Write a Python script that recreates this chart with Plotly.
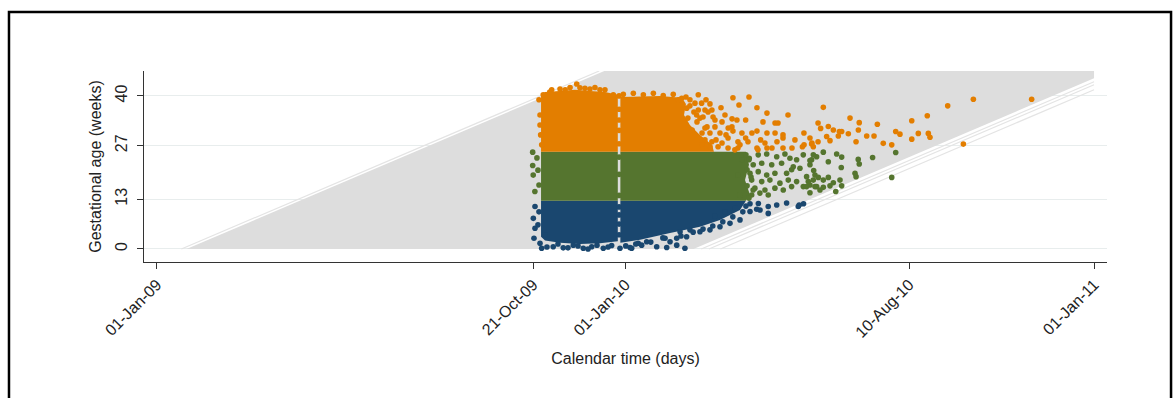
import numpy as np
import pandas as pd
import plotly.graph_objects as go

BASE = pd.Timestamp("2009-01-01")

# ---- x values are days since 01-Jan-09, y values are gestational weeks ----
# grey area covered by the pregnancy follow-up lines
area_day = [23.0, 348.5, 730.0, 730.0, 418.0]
area_wk = [0.0, 46.5, 46.5, 44.6, 0.0]

# a few separate thin follow-up lines at the edges
thin_day0 = [19.0, 424.0, 430.0, 439.0]
thin_wk0 = [0.0, 0.0, 0.0, 0.0]
thin_day1 = [344.5, 730.0, 730.0, 730.0]
thin_wk1 = [46.5, 43.7, 42.9, 41.6]

blue_b1_day = [299.2, 359.0, 359.0, 345.1, 329.5, 314.0, 302.3, 299.2]
blue_b1_wk = [12.6, 12.6, 2.0, 1.5, 1.3, 1.6, 2.2, 3.2]
blue_b2_day = [361.0, 458.8, 454.2, 438.6, 423.0, 399.7, 376.3, 361.0]
blue_b2_wk = [12.6, 12.6, 10.2, 7.6, 5.8, 4.2, 2.4, 1.6]
green_b1_day = [299.2, 359.0, 359.0, 299.2]
green_b1_wk = [25.4, 25.4, 12.6, 12.6]
green_b2_day = [361.0, 458.8, 461.2, 458.1, 462.0, 458.8, 361.0]
green_b2_wk = [25.4, 25.4, 22.0, 18.0, 14.1, 12.6, 12.6]
orange_b1_day = [299.2, 299.2, 302.3, 314.0, 325.6, 337.3, 349.0, 359.0, 359.0]
orange_b1_wk = [25.4, 40.3, 41.0, 41.3, 41.6, 41.3, 41.0, 40.3, 25.4]
orange_b2_day = [361.0, 361.0, 391.9, 409.0, 412.1, 410.6, 415.2, 423.0, 432.4, 433.9]
orange_b2_wk = [25.4, 39.7, 40.0, 39.5, 37.9, 35.0, 32.4, 29.8, 27.2, 25.4]

# individual observations
blue_day = [294.5, 293.2, 294.5, 293.7, 298.4, 299.7, 308.7, 316.5, 324.3, 332.1,
            338.7, 347.7, 354.2, 360.7, 369.8, 303.8, 312.4, 320.2, 328.0, 335.8,
            342.8, 351.4, 302.3, 296.8, 297.6, 360.0, 360.0, 360.0, 360.0,
            374.9, 368.5, 381.5, 377.6, 389.3, 397.1, 395.8, 399.7, 404.9, 404.9,
            411.3, 412.6, 407.5, 415.2, 423.0, 430.8, 438.6, 446.4, 454.2, 462.0,
            467.2, 476.2, 462.0, 468.5, 476.2, 482.8, 490.5, 499.6, 500.3, 503.7,
            469.8, 442.6, 450.4, 434.7,
            458.8, 456.4, 448.6, 440.8, 433.0, 425.4, 417.7, 408.2, 394.1, 384.7,
            373.0, 365.2]
blue_wk = [11.1, 8.0, 5.4, 2.8, 1.5, 0.2, 0.6, 0.3, 1.0, 0.2,
           0.6, 0.2, 0.9, 0.2, 0.2, 0.5, 1.3, 0.3, 0.8, 0.0,
           1.0, 0.5, 3.7, 6.3, 9.7, 11.0, 8.9, 6.5, 3.7,
           1.5, 0.4, 1.9, 1.0, 0.6, 0.4, 2.8, 1.9, 2.8, 1.0,
           0.2, 3.2, 4.5, 5.0, 4.5, 5.0, 5.8, 6.7, 7.6, 9.8,
           10.4, 9.3, 11.8, 11.9, 11.1, 11.5, 12.0, 11.1, 11.5, 11.8,
           10.2, 9.7, 10.7, 8.6,
           11.2, 9.7, 8.4, 7.1, 6.0, 5.2, 4.4, 3.4, 2.9, 1.8,
           1.3, 0.8]

green_day = [292.7, 292.7, 293.1, 294.4, 296.0, 296.8, 297.6, 360.0, 360.0, 360.0,
             461.4, 468.4, 475.0, 482.8, 489.2, 493.1, 498.3, 503.5, 510.0, 513.9,
             464.5, 471.1, 478.9, 486.6, 495.7, 500.9, 508.7,
             462.0, 468.4, 475.0, 481.4, 490.5, 494.4, 506.1, 512.6,
             463.3, 471.1, 477.5, 485.3, 491.8, 498.3, 503.5, 508.7, 513.9,
             465.8, 473.6, 481.4, 487.9, 494.4, 463.3, 469.7, 476.2,
             519.1, 529.5, 533.4, 511.3, 508.7, 523.0, 546.3, 547.1, 557.5, 575.5,
             533.1, 511.6, 543.8, 544.6, 507.4, 511.3, 515.2, 519.1, 523.0, 526.9,
             532.1, 533.4, 506.1, 512.6, 519.1, 524.3, 508.7, 516.5, 528.8, 572.4,
             458.8, 461.2, 459.7, 462.8, 459.7, 464.4, 461.2, 455.7, 452.6, 454.2]
green_wk = [25.3, 21.8, 19.3, 15.0, 23.8, 20.6, 16.7, 24.0, 19.5, 14.0,
            23.7, 24.6, 24.8, 24.1, 24.8, 23.7, 23.3, 24.6, 23.3, 24.1,
            22.0, 22.4, 22.0, 22.4, 21.5, 21.1, 22.0,
            19.8, 20.2, 19.3, 19.8, 19.8, 20.7, 18.9, 19.3,
            18.0, 17.6, 18.0, 17.2, 18.0, 17.6, 16.3, 16.7, 16.3,
            15.9, 15.4, 15.9, 15.4, 16.3, 14.1, 14.6, 14.1,
            25.3, 24.8, 24.0, 24.6, 23.1, 22.8, 23.4, 22.2, 23.9, 25.2,
            21.3, 20.5, 19.8, 18.9, 17.6, 18.0, 18.7, 18.0, 18.7, 17.3,
            18.0, 16.5, 16.3, 16.3, 16.1, 16.5, 14.7, 15.4, 15.0, 18.7,
            24.6, 23.3, 20.7, 18.8, 16.5, 15.4, 13.3, 23.3, 19.3, 14.1]

orange_day = [300.9, 307.5, 314.0, 321.8, 327.0, 333.4, 341.2, 349.0, 355.5, 306.0,
              318.0, 337.3, 345.1, 329.5, 298.4, 298.9, 299.7, 297.6, 298.4,
              360.0, 360.0, 360.0, 360.0, 360.0,
              363.3, 371.1, 378.9, 386.7, 394.4, 402.2, 408.8,
              406.2, 415.2, 419.1, 412.7, 424.3, 421.7, 420.4, 421.7,
              448.7, 461.2, 453.4, 467.4, 475.2, 491.6, 430.8, 426.9, 432.3, 439.4,
              425.4, 433.2, 440.2, 448.0, 451.8, 472.1, 481.5, 483.8, 515.0, 428.5,
              434.7, 447.9, 448.7, 455.7, 463.5, 467.4, 475.2, 481.5, 487.7, 504.0,
              424.6, 430.8, 438.6, 426.9, 432.3, 444.9, 452.6, 454.2, 460.4, 473.6,
              475.2, 483.0, 487.7, 508.7, 510.2, 424.6, 430.8, 437.1, 444.9, 450.2,
              467.4, 487.7, 494.7, 502.8, 515.0,
              519.1, 539.9, 547.1, 561.2, 588.0, 517.0, 523.0, 526.9, 531.6, 533.4,
              538.6, 546.4, 552.9, 558.6, 575.5, 578.8, 593.1, 521.7, 524.3, 530.8,
              544.6, 504.1, 510.0, 511.3, 565.8, 572.4, 588.0,
              636.0, 681.4, 616.0, 600.1, 600.9, 602.2, 628.2,
              412.1, 415.2, 418.3, 413.6, 420.7, 416.9, 426.9, 434.7, 442.5, 443.3,
              435.5, 440.2, 445.0, 458.6, 458.6, 470.3, 452.6, 468.2, 479.1, 497.0,
              423.0, 429.3, 427.7]
orange_wk = [40.3, 41.6, 41.8, 42.2, 43.1, 42.0, 42.2, 41.6, 40.3, 41.0,
             41.6, 41.8, 41.6, 42.1, 35.0, 29.8, 27.2, 39.0, 32.4,
             40.0, 36.5, 33.7, 31.0, 27.5,
             40.4, 40.7, 40.3, 40.7, 40.1, 40.4, 39.4,
             39.0, 39.0, 38.1, 36.8, 38.1, 36.3, 35.0, 40.3,
             39.5, 39.7, 37.6, 36.9, 35.5, 35.0, 37.9, 36.3, 36.3, 36.9,
             34.5, 34.5, 33.2, 34.0, 33.7, 33.2, 32.9, 32.9, 32.9, 31.9,
             31.9, 31.9, 30.8, 30.3, 30.3, 30.8, 30.3, 30.3, 29.8, 30.3,
             30.3, 30.3, 30.3, 28.5, 28.0, 29.0, 28.0, 27.2, 28.0, 27.7,
             26.4, 28.0, 29.0, 29.0, 27.7, 27.2, 26.7, 26.7, 26.4, 25.9,
             26.4, 26.4, 26.4, 26.7, 28.0,
             37.0, 34.2, 33.0, 32.6, 33.5, 31.5, 32.0, 31.1, 30.7, 30.7,
             30.1, 31.1, 29.5, 29.5, 30.7, 30.0, 30.2, 29.4, 28.3, 29.5,
             28.0, 27.2, 27.4, 26.7, 27.6, 27.2, 28.7,
             39.1, 39.1, 37.4, 34.8, 30.2, 29.2, 27.4,
             39.7, 37.4, 35.8, 34.2, 33.2, 31.1, 31.6, 33.7, 35.0, 29.8,
             28.5, 27.7, 31.6, 33.7, 29.0, 28.5, 26.4, 25.9, 26.4, 28.5,
             34.2, 35.8, 39.0]

# axis ticks
x_tick_day = [0, 293, 365, 586, 730]
x_tick_text = ["01-Jan-09", "21-Oct-09", "01-Jan-10", "10-Aug-10", "01-Jan-11"]
y_tick_vals = [0, 13, 27, 40]
x_range_day = [-10.1, 740.1]
y_range = [-3.4, 46.5]

NAVY = "#1a476f"
GREEN = "#55752f"
ORANGE = "#e37e00"
GREY = "#dddddd"
FONT = "Liberation Sans, Arial, sans-serif"


def to_date(days):
    return BASE + pd.to_timedelta(np.asarray(days, dtype=float), unit="D")


fig = go.Figure()

fig.add_trace(go.Scatter(x=to_date(area_day), y=area_wk, fill="toself", mode="none",
                         fillcolor=GREY, hoverinfo="skip", showlegend=False))
for d0, w0, d1, w1 in zip(thin_day0, thin_wk0, thin_day1, thin_wk1):
    fig.add_trace(go.Scatter(x=to_date([d0, d1]), y=[w0, w1], mode="lines",
                             line=dict(color="#e4e4e4", width=1.2),
                             hoverinfo="skip", showlegend=False))

for dd, ww, col in [(blue_b1_day, blue_b1_wk, NAVY), (blue_b2_day, blue_b2_wk, NAVY),
                    (green_b1_day, green_b1_wk, GREEN), (green_b2_day, green_b2_wk, GREEN),
                    (orange_b1_day, orange_b1_wk, ORANGE), (orange_b2_day, orange_b2_wk, ORANGE)]:
    fig.add_trace(go.Scatter(x=to_date(dd), y=ww, fill="toself", mode="none",
                             fillcolor=col, hoverinfo="skip", showlegend=False))

for dd, ww, col in [(blue_day, blue_wk, NAVY), (green_day, green_wk, GREEN),
                    (orange_day, orange_wk, ORANGE)]:
    fig.add_trace(go.Scatter(x=to_date(dd), y=ww, mode="markers",
                             marker=dict(color=col, size=5.6, line=dict(width=0)),
                             showlegend=False))

fig.update_layout(
    width=1174, height=398,
    margin=dict(l=144, r=67, t=71, b=136),
    paper_bgcolor="white", plot_bgcolor="white",
    font=dict(family=FONT, size=16, color="#222222"),
    xaxis=dict(
        type="date", range=list(to_date(x_range_day)),
        tickvals=list(to_date(x_tick_day)), ticktext=x_tick_text, tickangle=-45,
        ticks="outside", ticklen=6, tickcolor="#333333", tickfont=dict(size=16),
        showline=True, linecolor="#333333", linewidth=1,
        showgrid=False, zeroline=False,
        title=dict(text="Calendar time (days)", font=dict(size=16), standoff=12),
    ),
    yaxis=dict(
        range=y_range, tickvals=y_tick_vals, tickangle=-90,
        ticks="outside", ticklen=6, tickcolor="#333333", tickfont=dict(size=16),
        ticklabelstandoff=4,
        showline=True, linecolor="#333333", linewidth=1,
        showgrid=True, gridcolor="#e8eded", gridwidth=1, zeroline=False,
        title=dict(text="Gestational age (weeks)", font=dict(size=16), standoff=6),
    ),
    shapes=[dict(type="rect", xref="paper", yref="paper",
                 x0=-0.1402, x1=1.0665, y0=-0.78, y1=1.309,
                 line=dict(color="black", width=2.5), fillcolor="rgba(0,0,0,0)")],
)

fig.write_html("out.html", config={"displayModeBar": False},
               post_script="document.body.style.margin='0px';")
